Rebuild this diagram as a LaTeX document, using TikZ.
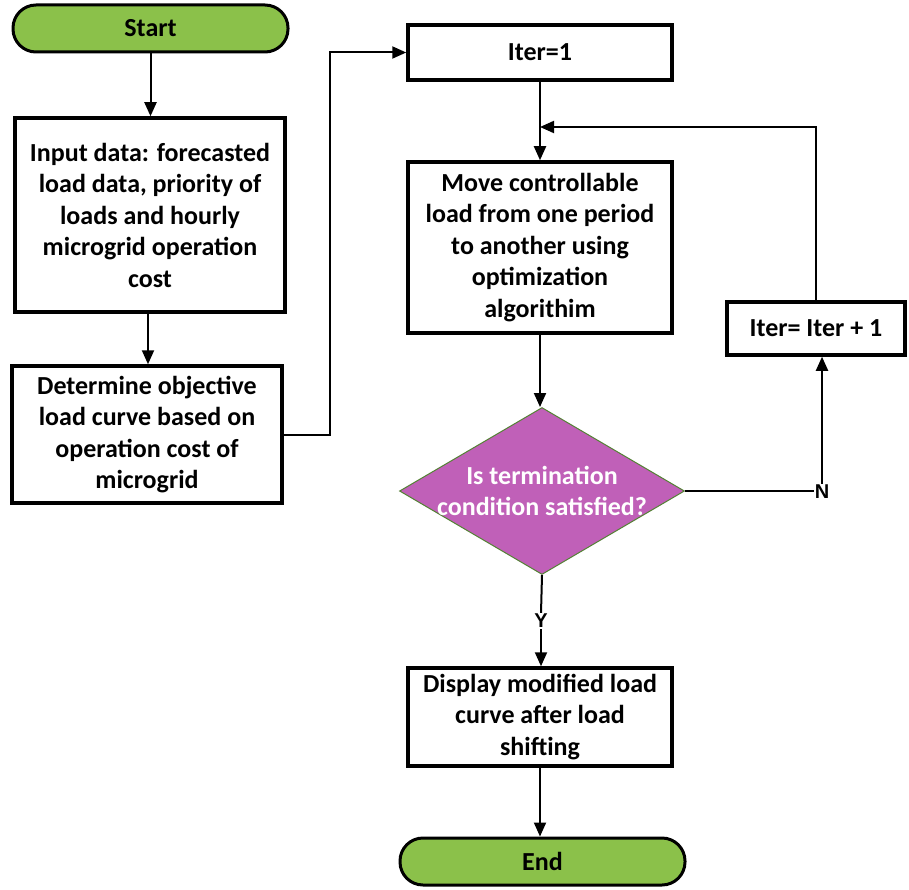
\documentclass[tikz,border=0pt]{standalone}
\usepackage{fontspec}
\setmainfont{Carlito}
\newfontfamily\arialfont{Liberation Sans}
\usetikzlibrary{shapes.geometric,arrows.meta}
\definecolor{termgreen}{RGB}{139,193,74}
\definecolor{decmag}{RGB}{192,96,184}
\definecolor{decedge}{RGB}{84,130,53}
\begin{document}
\begin{tikzpicture}[x=1pt,y=-1pt,
  font=\bfseries\fontsize{26}{31.5}\selectfont,
  box/.style={draw, line width=3.5pt, fill=white, align=center, inner sep=0pt},
  term/.style={draw, line width=3pt, fill=termgreen, rounded corners=23pt, align=center, inner sep=0pt, minimum height=47pt},
  dec/.style={diamond, draw=decedge, line width=1pt, fill=decmag, inner sep=0pt, minimum width=285pt, minimum height=167pt, aspect=1.7},
  dectext/.style={text=white, align=center, inner sep=0pt},
  arr/.style={line width=2pt, -{Triangle[length=14pt,width=12pt]}},
  plain/.style={line width=2pt},
  yn/.style={font=\arialfont\bfseries\fontsize{20}{22}\selectfont, inner sep=1pt}]
\useasboundingbox (0,0) rectangle (909,890);
\node[term, minimum width=275pt] (start) at (150.5,28.5) {Start};
\node[box, minimum width=270pt, minimum height=194pt] (inp) at (150,215)
  {Input data: forecasted\\load data, priority of\\loads and hourly\\microgrid operation\\cost};
\node[box, minimum width=270pt, minimum height=137pt] (det) at (147,434.5)
  {Determine objective\\load curve based on\\operation cost of\\microgrid};
\node[box, minimum width=264pt, minimum height=55pt] (iter) at (540,52.5) {Iter=1};
\node[box, minimum width=264pt, minimum height=171pt] (move) at (540,247.5)
  {Move controllable\\load from one period\\to another using\\optimization\\algorithim};
\node[dec] (cond) at (542,491) {};
\node[dectext] (condtext) at (cond.center) {Is termination\\condition satisfied?};
\node[box, minimum width=178pt, minimum height=53pt] (inc) at (816,328.5) {Iter= Iter + 1};
\node[box, minimum width=264pt, minimum height=98pt] (disp) at (540,717)
  {Display modified load\\curve after load\\shifting};
\node[term, minimum width=285pt] (end) at (542.5,861.5) {End};
\node[yn] (n) at (822,492) {N};
\node[yn] (y) at (541,621) {Y};
\coordinate (jn) at (540,127);
\draw[arr] (start.south) -- (start.south |- inp.north);
\draw[arr] (inp.south -| 148,0) -- (148,0 |- det.north);
\draw[arr] (det.east) -- (330,0 |- det.east) -- (330,0 |- iter.west) -- (iter.west);
\draw[arr] (iter.south) -- (move.north);
\draw[arr] (inc.north) |- (jn);
\draw[arr] (move.south) -- (move.south |- cond.north);
\draw[plain] (cond.east) -- (cond.east -| n.west);
\draw[arr] (n.north) -- (n.north |- inc.south);
\draw[plain] (cond.south) -- (y.north);
\draw[arr] (y.south) -- (y.south |- disp.north);
\draw[arr] (disp.south) -- (disp.south |- end.north);
\end{tikzpicture}
\end{document}
